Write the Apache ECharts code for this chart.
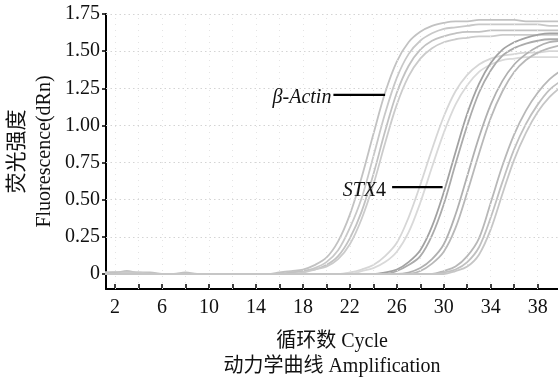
<!DOCTYPE html>
<html>
<head>
<meta charset="utf-8">
<script src="https://cdn.jsdelivr.net/npm/echarts@6/dist/echarts.min.js"></script>
<style>
html,body{margin:0;padding:0;background:#fff;}
#chart{width:558px;height:381px;}
</style>
</head>
<body>
<div id="chart"></div>
<script>
// ---- Data ----
const cycles = [1,2,3,4,5,6,7,8,9,10,11,12,13,14,15,16,17,18,19,20,21,22,23,24,25,26,27,28,29,30,31,32,33,34,35,36,37,38,39,40];

// beta-Actin group
const actin1 = [0.01,0.01,0.02,0.01,0.01,0.00,0.00,0.01,0.00,0.00,0.00,0.00,0.00,0.00,0.00,0.01,0.02,0.03,0.06,0.11,0.22,0.40,0.65,0.94,1.22,1.43,1.56,1.63,1.67,1.69,1.70,1.70,1.71,1.71,1.71,1.71,1.70,1.70,1.70,1.70];
const actin2 = [0.01,0.01,0.01,0.01,0.00,0.00,0.00,0.00,0.00,0.00,0.00,0.00,0.00,0.00,0.00,0.00,0.01,0.02,0.04,0.08,0.16,0.31,0.51,0.79,1.08,1.32,1.48,1.57,1.62,1.65,1.66,1.67,1.68,1.68,1.68,1.68,1.68,1.68,1.67,1.67];
const actin3 = [0.00,0.01,0.01,0.00,0.00,0.00,0.00,0.00,0.00,0.00,0.00,0.00,0.00,0.00,0.00,0.00,0.01,0.02,0.03,0.06,0.12,0.24,0.42,0.67,0.96,1.22,1.40,1.51,1.57,1.60,1.62,1.63,1.63,1.64,1.64,1.64,1.64,1.64,1.64,1.64];
const actin4 = [0.00,0.00,0.01,0.00,0.00,0.00,0.00,0.00,0.00,0.00,0.00,0.00,0.00,0.00,0.00,0.00,0.00,0.01,0.03,0.05,0.10,0.20,0.37,0.60,0.88,1.14,1.33,1.45,1.52,1.56,1.58,1.59,1.60,1.60,1.61,1.61,1.61,1.61,1.61,1.61];
// STX4 groups
const stxB1 = [0.00,0.00,0.00,0.00,0.00,0.00,0.00,0.00,0.00,0.00,0.00,0.00,0.00,0.00,0.00,0.00,0.00,0.00,0.00,0.00,0.00,0.01,0.03,0.06,0.12,0.21,0.38,0.60,0.84,1.06,1.23,1.34,1.41,1.45,1.47,1.48,1.49,1.49,1.50,1.50];
const stxB2 = [0.00,0.00,0.00,0.00,0.00,0.00,0.00,0.00,0.00,0.00,0.00,0.00,0.00,0.00,0.00,0.00,0.00,0.00,0.00,0.00,0.00,0.00,0.02,0.04,0.08,0.15,0.28,0.48,0.72,0.95,1.14,1.27,1.36,1.41,1.44,1.45,1.46,1.46,1.46,1.46];
const stxC1 = [0.00,0.00,0.00,0.00,0.00,0.00,0.00,0.00,0.00,0.00,0.00,0.00,0.00,0.00,0.00,0.00,0.00,0.00,0.00,0.00,0.00,0.00,0.00,0.00,0.01,0.03,0.08,0.16,0.32,0.55,0.82,1.08,1.28,1.42,1.51,1.56,1.59,1.61,1.62,1.62];
const stxC2 = [0.00,0.00,0.00,0.00,0.00,0.00,0.00,0.00,0.00,0.00,0.00,0.00,0.00,0.00,0.00,0.00,0.00,0.00,0.00,0.00,0.00,0.00,0.00,0.00,0.00,0.02,0.06,0.12,0.26,0.47,0.74,1.00,1.22,1.37,1.47,1.52,1.55,1.57,1.58,1.58];
const stxD1 = [0.00,0.00,0.00,0.00,0.00,0.00,0.00,0.00,0.00,0.00,0.00,0.00,0.00,0.00,0.00,0.00,0.00,0.00,0.00,0.00,0.00,0.00,0.00,0.00,0.00,0.00,0.01,0.04,0.10,0.20,0.40,0.66,0.92,1.14,1.30,1.41,1.48,1.53,1.56,1.57];
const stxD2 = [0.00,0.00,0.00,0.00,0.00,0.00,0.00,0.00,0.00,0.00,0.00,0.00,0.00,0.00,0.00,0.00,0.00,0.00,0.00,0.00,0.00,0.00,0.00,0.00,0.00,0.00,0.00,0.02,0.07,0.15,0.31,0.55,0.81,1.05,1.23,1.36,1.44,1.49,1.52,1.54];
const stxE1 = [0.00,0.00,0.00,0.00,0.00,0.00,0.00,0.00,0.00,0.00,0.00,0.00,0.00,0.00,0.00,0.00,0.00,0.00,0.00,0.00,0.00,0.00,0.00,0.00,0.00,0.00,0.00,0.00,0.00,0.02,0.05,0.12,0.24,0.48,0.73,0.94,1.10,1.22,1.31,1.37];
const stxE2 = [0.00,0.00,0.00,0.00,0.00,0.00,0.00,0.00,0.00,0.00,0.00,0.00,0.00,0.00,0.00,0.00,0.00,0.00,0.00,0.00,0.00,0.00,0.00,0.00,0.00,0.00,0.00,0.00,0.00,0.01,0.03,0.08,0.18,0.38,0.62,0.84,1.01,1.14,1.24,1.30];
const stxE3 = [0.00,0.00,0.00,0.00,0.00,0.00,0.00,0.00,0.00,0.00,0.00,0.00,0.00,0.00,0.00,0.00,0.00,0.00,0.00,0.00,0.00,0.00,0.00,0.00,0.00,0.00,0.00,0.00,0.00,0.00,0.02,0.05,0.13,0.30,0.54,0.77,0.95,1.09,1.19,1.26];

// Axis ticks / labels
const xTickValues = [2,4,6,8,10,12,14,16,18,20,22,24,26,28,30,32,34,36,38];
const xLabelValues = [2,6,10,14,18,22,26,30,34,38];
const yTickValues = [0,0.25,0.5,0.75,1.0,1.25,1.5,1.75];

// Annotations (data coordinates)
const actinAnno = {from: [20.6, 1.205], to: [25.0, 1.205]};
const stxAnno = {from: [25.6, 0.585], to: [29.9, 0.585]};

// ---- Chart ----
const FONT = "'Liberation Serif', 'Times New Roman', 'Noto Sans CJK SC', serif";
const curves = [
  {d: actin1, c: '#c2c2c2'}, {d: actin2, c: '#c8c8c8'}, {d: actin3, c: '#c2c2c2'}, {d: actin4, c: '#cbcbcb'},
  {d: stxB1, c: '#d6d6d6'}, {d: stxB2, c: '#d9d9d9'},
  {d: stxC1, c: '#a2a2a2'}, {d: stxC2, c: '#ababab'},
  {d: stxD1, c: '#b0b0b0'}, {d: stxD2, c: '#b8b8b8'},
  {d: stxE1, c: '#b8b8b8'}, {d: stxE2, c: '#c0c0c0'}, {d: stxE3, c: '#c6c6c6'}
];

const gridLineStyle = {type: [1.5, 3], color: '#d4d4d4', width: 1};
const gridSeries = {
  type: 'line', data: [], z: 1, silent: true,
  markLine: {
    silent: true, symbol: 'none', animation: false,
    label: {show: false},
    lineStyle: gridLineStyle,
    data: yTickValues.filter(v => v > 0).map(v => ({yAxis: v}))
      .concat(xTickValues.map(v => ({xAxis: v, lineStyle: {type: [1, 5], color: '#e4e4e4', width: 1}})))
  }
};

const series = [gridSeries].concat(curves.map(cv => ({
  type: 'line',
  data: cycles.map((c, i) => [c, cv.d[i]]),
  showSymbol: false,
  smooth: 0.35,
  z: 2,
  animation: false,
  lineStyle: {color: cv.c, width: 1.8}
})));

const chart = echarts.init(document.getElementById('chart'), null, {renderer: 'canvas'});
chart.setOption({
  animation: false,
  backgroundColor: '#fff',
  grid: {left: 106, right: 0, top: 14, bottom: 92, containLabel: false, outerBoundsMode: 'none'},
  xAxis: {
    type: 'value', min: 1.23, max: 39.73,
    name: '循环数 Cycle\n动力学曲线 Amplification',
    nameLocation: 'middle', nameGap: 40,
    nameTextStyle: {fontFamily: FONT, fontSize: 20, color: '#111', lineHeight: 25},
    axisLine: {show: true, onZero: false, lineStyle: {color: '#000', width: 2}},
    axisTick: {show: true, inside: true, length: 5, customValues: xTickValues, lineStyle: {color: '#000', width: 1.5}},
    axisLabel: {customValues: xLabelValues, fontFamily: FONT, fontSize: 20, color: '#111', margin: 9},
    splitLine: {show: false}
  },
  yAxis: {
    type: 'value', min: -0.101, max: 1.75,
    name: '{cn|荧光强度}\n{en|Fluorescence(dRn)}',
    nameLocation: 'middle', nameGap: 48, nameRotate: 90, nameMoveOverlap: false,
    nameTextStyle: {
      fontFamily: FONT, fontSize: 20, color: '#111', lineHeight: 27,
      rich: {
        cn: {fontFamily: FONT, fontSize: 21, lineHeight: 27, color: '#111'},
        en: {fontFamily: FONT, fontSize: 20, lineHeight: 27, color: '#111'}
      }
    },
    axisLine: {show: true, lineStyle: {color: '#000', width: 2}},
    axisTick: {show: true, inside: false, length: 4, customValues: yTickValues, lineStyle: {color: '#000', width: 1.5}},
    axisLabel: {
      customValues: yTickValues, fontFamily: FONT, fontSize: 20, color: '#111', margin: 6,
      formatter: v => (v === 0 ? '0' : v.toFixed(2))
    },
    splitLine: {show: false}
  },
  series: series
});

function annoGraphics(anno, textRich, gapX, dy) {
  const p1 = chart.convertToPixel({gridIndex: 0}, anno.from);
  const p2 = chart.convertToPixel({gridIndex: 0}, anno.to);
  return [
    {type: 'line', z: 10, shape: {x1: p1[0], y1: p1[1], x2: p2[0], y2: p2[1]}, style: {stroke: '#000', lineWidth: 2.2}},
    {type: 'text', z: 10, x: p1[0] - gapX, y: p1[1] + dy,
      style: {text: textRich, align: 'right', verticalAlign: 'middle',
        rich: {
          i: {fontFamily: FONT, fontStyle: 'italic', fontSize: 20, fill: '#111'},
          n: {fontFamily: FONT, fontSize: 20, fill: '#111'}
        }}}
  ];
}
chart.setOption({
  graphic: annoGraphics(actinAnno, '{i|β-Actin}', 2, 3).concat(annoGraphics(stxAnno, '{i|STX}{n|4}', 6, 4))
});
</script>
</body>
</html>
